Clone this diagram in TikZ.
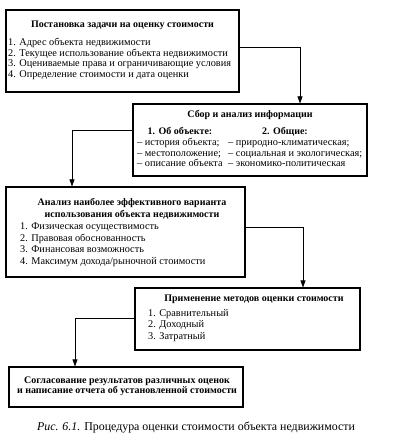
\documentclass[tikz,border=0pt]{standalone}
\usepackage{fontspec}
\setmainfont{Liberation Serif}
\usetikzlibrary{arrows.meta}
\tikzset{
  box/.style={draw,line width=1.1pt,inner sep=0pt},
  txt/.style={inner sep=0pt,anchor=base west,font=\fontsize{10.3}{11}\selectfont},
  ttl/.style={inner sep=0pt,anchor=base,font=\fontsize{10}{11}\selectfont\bfseries},
  arr/.style={line width=0.6pt,-{Triangle[width=5pt,length=7pt]}}
}
\begin{document}
\begin{tikzpicture}[x=1pt,y=-1pt]
  \useasboundingbox (0,0) rectangle (400,435);
  \node[box,minimum width=233pt,minimum height=82pt] (b1) at (122.5,51) {};
  \node[box,minimum width=234pt,minimum height=72pt] (b2) at (250,140) {};
  \node[box,minimum width=239pt,minimum height=90pt] (b3) at (125.5,232) {};
  \node[box,minimum width=225pt,minimum height=62pt] (b4) at (247.5,319) {};
  \node[box,minimum width=234pt,minimum height=40pt] (b5) at (126,387) {};
  \draw
    (122.5,28) node[ttl] (t1) {Постановка задачи на оценку стоимости}
    (8,46) node[txt] (t11) {1. Адрес объекта недвижимости}
    (8,56.5) node[txt] (t12) {2. Текущее использование объекта недвижимости}
    (8,67) node[txt] (t13) {3. Оцениваемые права и ограничивающие условия}
    (8,77.5) node[txt] (t14) {4. Определение стоимости и дата оценки};
  \draw
    (250,118) node[ttl] (t2) {Сбор и анализ информации}
    (180,135) node[ttl] (t2a) {1. Об объекте:}
    (285,135) node[ttl] (t2b) {2. Общие:}
    (137,146) node[txt] (t21) {– история объекта;}
    (137,156.5) node[txt] (t22) {– местоположение;}
    (137,167) node[txt] (t23) {– описание объекта}
    (228,146) node[txt] (t24) {– природно-климатическая;}
    (228,156.5) node[txt] (t25) {– социальная и экологическая;}
    (228,167) node[txt] (t26) {– экономико-политическая};
  \draw
    (132,206) node[ttl] (t3) {Анализ наиболее эффективного варианта}
    (132,217) node[ttl] (t3b) {использования объекта недвижимости}
    (20,229.5) node[txt] (t31) {1. Физическая осуществимость}
    (20,241) node[txt] (t32) {2. Правовая обоснованность}
    (20,252.5) node[txt] (t33) {3. Финансовая возможность}
    (20,264) node[txt] (t34) {4. Максимум дохода/рыночной стоимости};
  \draw
    (254,301) node[ttl] (t4) {Применение методов оценки стоимости}
    (148,316) node[txt] (t41) {1. Сравнительный}
    (148,327.5) node[txt] (t42) {2. Доходный}
    (148,339) node[txt] (t43) {3. Затратный};
  \draw
    (127,383) node[ttl] (t5) {Согласование результатов различных оценок}
    (127,393.5) node[ttl] (t5b) {и написание отчета об установленной стоимости};
  \node[inner sep=0pt,anchor=base,font=\fontsize{11.9}{13}\selectfont] (cap) at (196,430)
    {\textit{Рис. 6.1.} Процедура оценки стоимости объекта недвижимости};
  \begin{scope}[arr]
    \draw ([yshift=4pt]b1.east) -| ([xshift=50pt]b2.north);
    \draw ([yshift=10pt]b2.west) -| ([xshift=-53.5pt]b3.north);
    \draw ([yshift=5pt]b3.east) -| ([xshift=55.5pt]b4.north);
    \draw ([yshift=1pt]b4.west) -| ([xshift=-51pt]b5.north);
  \end{scope}
\end{tikzpicture}
\end{document}
